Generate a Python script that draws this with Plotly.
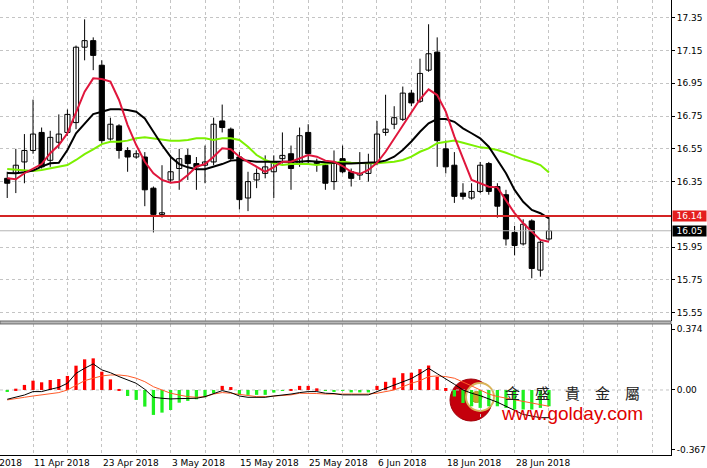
import plotly.graph_objects as go

# ---------------- data ----------------
opens = [16.37,16.40,16.47,16.54,16.65,16.48,16.59,16.65,16.71,17.17,17.21,17.06,16.61,16.69,16.54,16.50,
         16.50,16.31,16.15,16.36,16.43,16.51,16.46,16.45,16.47,16.72,16.67,16.50,16.25,16.36,16.40,16.41,
         16.49,16.52,16.46,16.65,16.47,16.45,16.35,16.49,16.41,16.39,16.40,16.46,16.65,16.70,16.73,16.89,
         16.84,17.03,17.14,16.55,16.45,16.28,16.25,16.29,16.46,16.32,16.27,16.04,15.97,16.11,15.81,16.00]
highs = [16.41,16.55,16.64,16.85,16.68,16.66,16.76,16.79,17.18,17.34,17.23,17.09,16.74,16.70,16.56,16.54,
         16.53,16.32,16.45,16.51,16.55,16.55,16.50,16.57,16.74,16.82,16.68,16.53,16.41,16.43,16.51,16.51,
         16.65,16.57,16.68,16.70,16.49,16.47,16.54,16.57,16.43,16.53,16.52,16.72,16.88,16.81,16.93,16.91,
         17.10,17.31,17.23,16.60,16.53,16.34,16.34,16.47,16.47,16.34,16.30,16.08,16.12,16.12,15.99,16.13]
lows = [16.25,16.28,16.34,16.52,16.43,16.44,16.55,16.63,16.67,17.09,17.03,16.58,16.60,16.49,16.41,16.49,
        16.20,16.04,16.13,16.34,16.30,16.36,16.30,16.34,16.45,16.65,16.48,16.18,16.17,16.31,16.37,16.25,
        16.46,16.30,16.44,16.46,16.41,16.30,16.30,16.40,16.32,16.36,16.35,16.45,16.63,16.67,16.72,16.81,
        16.83,17.02,16.44,16.40,16.22,16.24,16.24,16.28,16.27,16.13,15.96,15.90,15.96,15.76,15.77,15.99]
closes = [16.34,16.45,16.54,16.64,16.44,16.62,16.64,16.76,17.17,17.21,17.12,16.60,16.70,16.54,16.50,16.52,
          16.30,16.15,16.16,16.41,16.49,16.46,16.44,16.47,16.70,16.68,16.49,16.24,16.35,16.40,16.44,16.47,
          16.51,16.43,16.63,16.52,16.46,16.34,16.47,16.41,16.37,16.40,16.46,16.64,16.67,16.74,16.89,16.83,
          17.01,17.13,16.60,16.44,16.26,16.26,16.29,16.45,16.29,16.20,16.00,15.96,16.09,15.82,15.98,16.05]

ma_red = [16.370,16.364,16.401,16.431,16.457,16.523,16.573,16.645,16.767,16.899,16.980,16.976,16.960,16.848,16.695,16.573,
          16.471,16.401,16.360,16.343,16.349,16.390,16.441,16.457,16.502,16.553,16.547,16.502,16.471,16.441,16.410,16.439,
          16.471,16.471,16.492,16.512,16.502,16.478,16.471,16.445,16.410,16.396,16.421,16.465,16.532,16.614,16.695,16.777,
          16.852,16.913,16.878,16.777,16.624,16.492,16.360,16.340,16.319,16.315,16.238,16.157,16.096,16.044,15.994,15.983]
ma_black = [16.403,16.401,16.407,16.417,16.441,16.462,16.465,16.543,16.645,16.706,16.762,16.776,16.791,16.791,16.787,16.776,
            16.736,16.654,16.573,16.502,16.457,16.437,16.425,16.425,16.441,16.457,16.478,16.482,16.478,16.471,16.471,16.471,
            16.468,16.468,16.471,16.475,16.471,16.465,16.463,16.461,16.461,16.463,16.463,16.468,16.478,16.502,16.543,16.595,
            16.654,16.706,16.732,16.732,16.715,16.675,16.645,16.614,16.563,16.482,16.401,16.299,16.227,16.177,16.157,16.126]
ma_green = [16.427,16.424,16.421,16.415,16.421,16.431,16.441,16.451,16.482,16.518,16.547,16.579,16.593,16.593,16.600,16.614,
            16.620,16.614,16.604,16.600,16.600,16.604,16.614,16.614,16.604,16.614,16.614,16.604,16.563,16.512,16.482,16.462,
            16.451,16.457,16.457,16.457,16.451,16.457,16.465,16.471,16.465,16.462,16.462,16.462,16.465,16.471,16.482,16.502,
            16.532,16.553,16.584,16.593,16.600,16.587,16.573,16.559,16.553,16.543,16.526,16.506,16.486,16.471,16.451,16.405]

macd_hist = [-0.010,0.008,0.031,0.057,0.047,0.061,0.067,0.086,0.149,0.188,0.194,0.112,0.065,0.005,-0.037,-0.061,
             -0.102,-0.153,-0.139,-0.123,-0.078,-0.067,-0.057,-0.045,-0.020,0.025,0.018,-0.030,-0.030,-0.030,-0.030,-0.016,
             -0.005,0.005,0.025,0.025,0.010,-0.005,-0.008,-0.005,-0.015,-0.015,-0.015,0.025,0.050,0.075,0.103,0.106,
             0.128,0.150,0.081,0.012,-0.040,-0.080,-0.100,-0.110,-0.100,-0.100,-0.110,-0.120,-0.120,-0.120,-0.110,-0.100]
macd_main = [-0.057,-0.045,-0.031,-0.010,-0.010,0.004,0.016,0.041,0.102,0.133,0.160,0.123,0.106,0.082,0.061,0.041,
             0.004,-0.045,-0.051,-0.055,-0.053,-0.051,-0.051,-0.041,-0.020,-0.004,-0.016,-0.037,-0.045,-0.045,-0.045,-0.037,
             -0.033,-0.025,-0.016,-0.010,-0.010,-0.020,-0.022,-0.030,-0.030,-0.030,-0.030,-0.010,0.010,0.030,0.050,0.070,
             0.100,0.133,0.100,0.070,0.035,0.000,-0.020,-0.035,-0.055,-0.075,-0.100,-0.125,-0.150,-0.160,-0.170,-0.170]
macd_signal = [-0.061,-0.055,-0.045,-0.037,-0.031,-0.025,-0.016,0.000,0.031,0.057,0.072,0.086,0.092,0.092,0.086,0.072,
               0.051,0.020,0.000,-0.020,-0.031,-0.041,-0.045,-0.041,-0.025,-0.016,-0.020,-0.027,-0.035,-0.041,-0.041,-0.037,
               -0.037,-0.030,-0.020,-0.020,-0.022,-0.025,-0.025,-0.025,-0.025,-0.025,-0.025,-0.020,-0.010,0.000,0.020,0.041,
               0.057,0.082,0.086,0.082,0.072,0.050,0.025,0.000,-0.025,-0.040,-0.050,-0.060,-0.070,-0.080,-0.090,-0.100]

price_ticks = [17.35, 17.15, 16.95, 16.75, 16.55, 16.35, 15.95, 15.75, 15.55]
macd_ticks = [0.374, 0.0, -0.367]
macd_ticktext = ["0.374", "0.00", "-0.367"]
date_label_pos = [-5, 3, 11, 19, 27, 35, 43, 51, 59]
date_labels = ["30 Mar 2018", "11 Apr 2018", "23 Apr 2018", "3 May 2018", "15 May 2018",
               "25 May 2018", "6 Jun 2018", "18 Jun 2018", "28 Jun 2018"]
support_level = 16.14
last_price = 16.05

# ---------------- layout constants ----------------
W, H = 707, 468
PLOT_W, PLOT_H = 671, 455
X_RANGE = [-0.84, 77.19]
P_RANGE = [15.4995, 17.458]
M_RANGE = [-0.399, 0.405]
FONT = "DejaVu Sans"

n = len(opens)
idx = list(range(n))
grid_x = list(range(3, 78, 4))

def pxx(x):
    return x / PLOT_W

def pxy(y):
    return (PLOT_H - y) / PLOT_H

fig = go.Figure()

# wicks
wx, wy = [], []
for i in idx:
    wx += [i, i, None]
    wy += [lows[i], highs[i], None]
fig.add_trace(go.Scatter(x=wx, y=wy, mode="lines", line=dict(color="black", width=1),
                         xaxis="x2", yaxis="y", hoverinfo="skip", showlegend=False))

# bodies
base = [min(o, c) for o, c in zip(opens, closes)]
height = [max(abs(c - o), 0.003) for o, c in zip(opens, closes)]
colors = ["white" if c >= o else "black" for o, c in zip(opens, closes)]
fig.add_trace(go.Bar(x=idx, y=height, base=base, width=0.6, marker=dict(color=colors, line=dict(color="black", width=1)),
                     xaxis="x2", yaxis="y", showlegend=False))

# moving averages
fig.add_trace(go.Scatter(x=idx, y=ma_green, mode="lines", line=dict(color="#7cf000", width=2),
                         xaxis="x2", yaxis="y", showlegend=False))
fig.add_trace(go.Scatter(x=idx, y=ma_black, mode="lines", line=dict(color="black", width=2),
                         xaxis="x2", yaxis="y", showlegend=False))
fig.add_trace(go.Scatter(x=idx, y=ma_red, mode="lines", line=dict(color="#e0163c", width=2),
                         xaxis="x2", yaxis="y", showlegend=False))

# MACD panel
hist_colors = ["#ff0000" if v >= 0 else "#1ef01e" for v in macd_hist]
fig.add_trace(go.Bar(x=idx, y=macd_hist, width=0.38, marker=dict(color=hist_colors, line=dict(width=0)),
                     xaxis="x", yaxis="y2", showlegend=False))
fig.add_trace(go.Scatter(x=idx, y=macd_signal, mode="lines", line=dict(color="#ff5a28", width=1),
                         xaxis="x", yaxis="y2", showlegend=False))
fig.add_trace(go.Scatter(x=idx, y=macd_main, mode="lines", line=dict(color="black", width=1),
                         xaxis="x", yaxis="y2", showlegend=False))

grid_style = dict(showgrid=True, gridcolor="#c4c4c4", griddash="3px,3px", gridwidth=1)

fig.update_layout(
    width=W, height=H,
    margin=dict(l=0, r=W - PLOT_W, t=0, b=H - PLOT_H),
    paper_bgcolor="white", plot_bgcolor="white",
    barmode="overlay",
    font=dict(family=FONT, size=9, color="black"),
    xaxis=dict(domain=[0, 1], range=X_RANGE, anchor="y2", tickvals=grid_x, showticklabels=False,
               ticks="", showline=True, linecolor="black", linewidth=1, zeroline=False, **grid_style),
    xaxis2=dict(domain=[0, 1], range=X_RANGE, anchor="y", matches="x", tickvals=grid_x, showticklabels=False,
                ticks="", showline=False, zeroline=False, **grid_style),
    yaxis=dict(domain=[0.2945, 1], range=P_RANGE, side="right", anchor="x2", tickvals=price_ticks,
               ticktext=[f"{v:.2f}" for v in price_ticks], ticks="outside", ticklen=3, tickcolor="black",
               showline=True, linecolor="black", linewidth=1, zeroline=False, **grid_style),
    yaxis2=dict(domain=[0, 0.288], range=M_RANGE, side="right", anchor="x", tickvals=macd_ticks,
                ticktext=macd_ticktext, ticks="outside", ticklen=3, tickcolor="black",
                showline=True, linecolor="black", linewidth=1, zeroline=False, showgrid=False),
)

shapes = []
# logo (beneath traces)
shapes.append(dict(type="circle", xref="paper", yref="paper", layer="below",
                   x0=pxx(450), x1=pxx(492), y0=pxy(421), y1=pxy(379),
                   fillcolor="#c4000c", line=dict(color="#a00008", width=1)))
shapes.append(dict(type="circle", xref="paper", yref="paper", layer="below",
                   x0=pxx(466), x1=pxx(494), y0=pxy(411), y1=pxy(383),
                   fillcolor="white", line=dict(color="#d9b45a", width=2)))
shapes.append(dict(type="circle", xref="paper", yref="paper", layer="below",
                   x0=pxx(471), x1=pxx(482), y0=pxy(402.5), y1=pxy(391.5),
                   fillcolor="#c8a02a", line=dict(color="#b08a1a", width=1)))
# zero line of MACD
shapes.append(dict(type="line", xref="paper", yref="y2", x0=0, x1=1, y0=0, y1=0,
                   line=dict(color="#c4c4c4", width=1, dash="3px,3px"), layer="below"))
# panel separator
shapes.append(dict(type="rect", xref="paper", yref="paper", x0=0, x1=1, y0=0.288, y1=0.2945,
                   fillcolor="#b8b8b8", line=dict(color="#6a6a6a", width=1)))
# last price line and support line
shapes.append(dict(type="line", xref="paper", yref="y", x0=0, x1=1, y0=last_price, y1=last_price,
                   line=dict(color="#b4b4b4", width=1)))
shapes.append(dict(type="line", xref="paper", yref="y", x0=0, x1=1, y0=support_level, y1=support_level,
                   line=dict(color="#d42424", width=2)))
fig.update_layout(shapes=shapes)

annotations = []
span = X_RANGE[1] - X_RANGE[0]
for pos, lab in zip(date_label_pos, date_labels):
    annotations.append(dict(x=(pos - X_RANGE[0]) / span, y=pxy(463), xref="paper", yref="paper",
                            text=lab, showarrow=False, xanchor="left", yanchor="middle",
                            font=dict(family=FONT, size=9, color="black"), borderpad=0))
annotations.append(dict(x=1.0, y=support_level, xref="paper", yref="y", text=f"{support_level:.2f}",
                        showarrow=False, xanchor="left", yanchor="middle", bgcolor="#e41e1e",
                        width=33, height=10, borderpad=0, xshift=1,
                        font=dict(family=FONT, size=9, color="white")))
annotations.append(dict(x=1.0, y=last_price, xref="paper", yref="y", text=f"{last_price:.2f}",
                        showarrow=False, xanchor="left", yanchor="middle", bgcolor="black",
                        width=33, height=10, borderpad=0, xshift=1,
                        font=dict(family=FONT, size=9, color="white")))
annotations.append(dict(x=pxx(572), y=pxy(392), xref="paper", yref="paper",
                        text="金　盛　貴　金　屬", showarrow=False, xanchor="center", yanchor="middle",
                        font=dict(family="Noto Sans CJK TC", size=15, color="#222222")))
annotations.append(dict(x=pxx(572), y=pxy(413), xref="paper", yref="paper",
                        text="www.golday.com", showarrow=False, xanchor="center", yanchor="middle",
                        font=dict(family="Liberation Sans", size=19, color="#e00000")))
fig.update_layout(annotations=annotations)

fig.write_html("out.html", config={"displayModeBar": False},
               post_script="document.body.style.margin='0';document.body.style.overflow='hidden';")
